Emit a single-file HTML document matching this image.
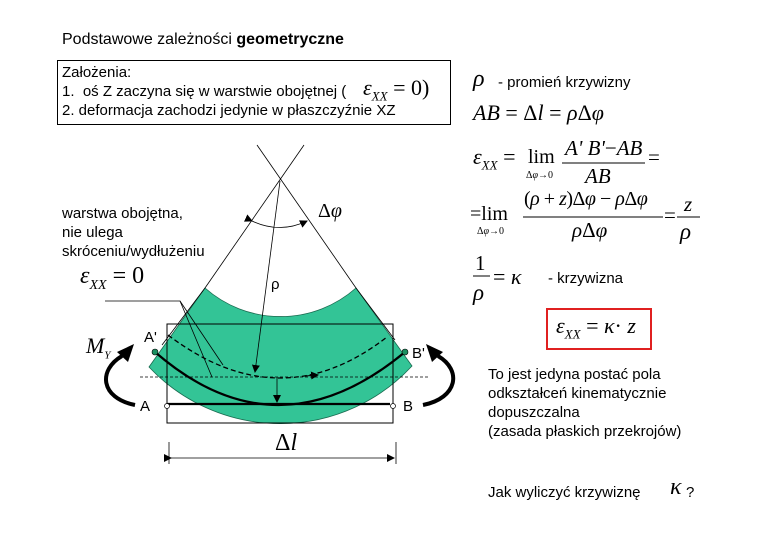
<!DOCTYPE html>
<html><head><meta charset="utf-8"><style>
body{margin:0;width:760px;height:537px;background:#fff;position:relative;overflow:hidden;font-family:"Liberation Sans",sans-serif;color:#000}
.t{position:absolute;font-size:15px;white-space:nowrap;line-height:18px}
.m{position:absolute;font-family:"Liberation Serif",serif;font-style:italic;white-space:nowrap}
.n{font-style:normal}
</style></head><body>
<div class="t" style="left:62px;top:31px;font-size:16px">Podstawowe zależności <b>geometryczne</b></div>
<div style="position:absolute;left:57px;top:60px;width:392px;height:63px;border:1px solid #000"></div>
<div class="t" style="left:62px;top:64px">Założenia:</div>
<div class="t" style="left:62px;top:83px">1.&nbsp; oś Z zaczyna się w warstwie obojętnej (</div>
<div class="m" style="left:363px;top:75px;font-size:22px">ε<sub style="font-size:13px">XX</sub> <span class="n">= 0)</span></div>
<div class="t" style="left:62px;top:102px">2. deformacja zachodzi jedynie w płaszczyźnie XZ</div>

<div class="t" style="left:62px;top:205px">warstwa obojętna,</div>
<div class="t" style="left:62px;top:224px">nie ulega</div>
<div class="t" style="left:62px;top:243px">skróceniu/wydłużeniu</div>
<div class="m" style="left:80px;top:263px;font-size:24px">ε<sub style="font-size:14px">XX</sub> <span class="n">= 0</span></div>
<div class="m" style="left:86px;top:333px;font-size:22px">M<sub style="font-size:11px">Y</sub></div>
<div class="m n" style="left:318px;top:200px;font-size:20px">Δ<i>φ</i></div>
<div class="t" style="left:271px;top:276px">ρ</div>
<div class="t" style="left:144px;top:329px">A'</div>
<div class="t" style="left:412px;top:345px">B'</div>
<div class="t" style="left:293px;top:350px;font-size:16px">X</div>
<div class="t" style="left:289px;top:404px;font-size:16px">Z</div>
<div class="t" style="left:140px;top:398px">A</div>
<div class="t" style="left:403px;top:398px">B</div>
<div class="m n" style="left:275px;top:430px;font-size:24px">Δ<i>l</i></div>

<svg width="760" height="537" style="position:absolute;left:0;top:0">
<defs><marker id="a" markerWidth="8" markerHeight="8" refX="7" refY="4" orient="auto" markerUnits="userSpaceOnUse"><path d="M0,0 L8,4 L0,8z"/></marker></defs>
<path d="M205,288 A114,114 0 0 0 356,288 L412,366 A180,180 0 0 1 149,367 Z" fill="#33c496" stroke="#1a6b50" stroke-width="0.8"/>
<line x1="304" y1="145" x2="205" y2="288" stroke="#000" stroke-width="0.8"/>
<line x1="257" y1="145" x2="356" y2="288" stroke="#000" stroke-width="0.8"/>
<line x1="205" y1="288" x2="162" y2="345" stroke="#000" stroke-width="0.8"/>
<line x1="356" y1="288" x2="395" y2="340" stroke="#000" stroke-width="0.8"/>
<path d="M252,221 Q280,234 307,221" fill="none" stroke="#000" stroke-width="0.8" marker-start="url(#a)" marker-end="url(#a)"/>
<line x1="280" y1="181" x2="255" y2="372" stroke="#000" stroke-width="0.8" marker-end="url(#a)"/>
<rect x="167" y="324" width="226" height="99" fill="none" stroke="#000" stroke-width="1"/>
<line x1="140" y1="377" x2="430" y2="377" stroke="#000" stroke-width="0.7" stroke-dasharray="3,2"/>
<path d="M168,335 Q280,420 387,337" fill="none" stroke="#000" stroke-width="1.3" stroke-dasharray="5,3"/>
<line x1="305" y1="376" x2="318" y2="375" stroke="#000" marker-end="url(#a)"/>
<path d="M155,352 Q277,458 405,352" fill="none" stroke="#000" stroke-width="2.2"/>
<circle cx="155" cy="352" r="3" fill="#1a8f60" stroke="#000" stroke-width="0.6"/>
<circle cx="405" cy="352" r="3" fill="#1a8f60" stroke="#000" stroke-width="0.6"/>
<line x1="167" y1="404" x2="390" y2="404" stroke="#000" stroke-width="2.2"/>
<circle cx="167" cy="406" r="2.5" fill="#fff" stroke="#000" stroke-width="0.7"/>
<circle cx="393" cy="406" r="2.5" fill="#fff" stroke="#000" stroke-width="0.7"/>
<line x1="277" y1="377" x2="277" y2="402" stroke="#000" stroke-width="0.8" marker-end="url(#a)"/>
<polyline points="105,301 180,301 212,377" fill="none" stroke="#000" stroke-width="0.8"/>
<line x1="180" y1="301" x2="223" y2="365" stroke="#000" stroke-width="0.8"/>
<path d="M135,405 C100,398 98,370 122,356" fill="none" stroke="#000" stroke-width="4"/>
<path d="M117,352 L134,344 L128,362 Z"/>
<path d="M423,405 C458,398 462,370 438,356" fill="none" stroke="#000" stroke-width="4"/>
<path d="M443,352 L426,344 L432,362 Z"/>
<line x1="169" y1="442" x2="169" y2="464" stroke="#000" stroke-width="0.8"/>
<line x1="396" y1="442" x2="396" y2="464" stroke="#000" stroke-width="0.8"/>
<line x1="171" y1="458" x2="394" y2="458" stroke="#000" stroke-width="0.8" marker-start="url(#a)" marker-end="url(#a)"/>
<line x1="562" y1="163" x2="645" y2="163" stroke="#000" stroke-width="1"/>
<line x1="523" y1="217" x2="663" y2="217" stroke="#000" stroke-width="1"/>
<line x1="677" y1="217" x2="700" y2="217" stroke="#000" stroke-width="1"/>
<line x1="473" y1="276" x2="490" y2="276" stroke="#000" stroke-width="1"/>
<rect x="547" y="309" width="104" height="40" fill="none" stroke="#e02020" stroke-width="2"/>
</svg>

<div class="m" style="left:473px;top:66px;font-size:24px">ρ</div>
<div class="t" style="left:498px;top:74px">- promień krzywizny</div>
<div class="m" style="left:473px;top:100px;font-size:22px">AB <span class="n">= Δ</span>l <span class="n">=</span> ρ<span class="n">Δ</span>φ</div>
<div class="m" style="left:473px;top:144px;font-size:22px">ε<sub style="font-size:13px">XX</sub> <span class="n">=</span></div>
<div class="m n" style="left:528px;top:146px;font-size:20px">lim</div>
<div class="m n" style="left:526px;top:170px;font-size:10px">Δ<i>φ</i>→0</div>
<div class="m" style="left:565px;top:136px;font-size:21px">A' B'<span class="n">−</span>AB</div>
<div class="m" style="left:585px;top:164px;font-size:21px">AB</div>
<div class="m n" style="left:648px;top:145px;font-size:21px">=</div>
<div class="m n" style="left:470px;top:203px;font-size:20px">=lim</div>
<div class="m n" style="left:477px;top:226px;font-size:10px">Δ<i>φ</i>→0</div>
<div class="m" style="left:524px;top:188px;font-size:20px;letter-spacing:-0.5px"><span class="n">(</span>ρ <span class="n">+</span> z<span class="n">)Δ</span>φ <span class="n">−</span> ρ<span class="n">Δ</span>φ</div>
<div class="m" style="left:572px;top:218px;font-size:21px">ρ<span class="n">Δ</span>φ</div>
<div class="m n" style="left:664px;top:203px;font-size:21px">=</div>
<div class="m" style="left:684px;top:192px;font-size:21px">z</div>
<div class="m" style="left:680px;top:219px;font-size:23px">ρ</div>
<div class="m n" style="left:475px;top:251px;font-size:21px">1</div>
<div class="m" style="left:473px;top:280px;font-size:23px">ρ</div>
<div class="m" style="left:493px;top:264px;font-size:22px"><span class="n">=</span> κ</div>
<div class="t" style="left:548px;top:270px">- krzywizna</div>
<div class="m" style="left:556px;top:313px;font-size:22px">ε<sub style="font-size:13px">XX</sub> <span class="n">=</span> κ<span class="n">·</span> z</div>
<div class="t" style="left:488px;top:366px">To jest jedyna postać pola</div>
<div class="t" style="left:488px;top:385px">odkształceń kinematycznie</div>
<div class="t" style="left:488px;top:404px">dopuszczalna</div>
<div class="t" style="left:488px;top:423px">(zasada płaskich przekrojów)</div>
<div class="t" style="left:488px;top:484px">Jak wyliczyć krzywiznę</div>
<div class="m" style="left:670px;top:474px;font-size:24px">κ</div>
<div class="t" style="left:686px;top:484px">?</div>
</body></html>
